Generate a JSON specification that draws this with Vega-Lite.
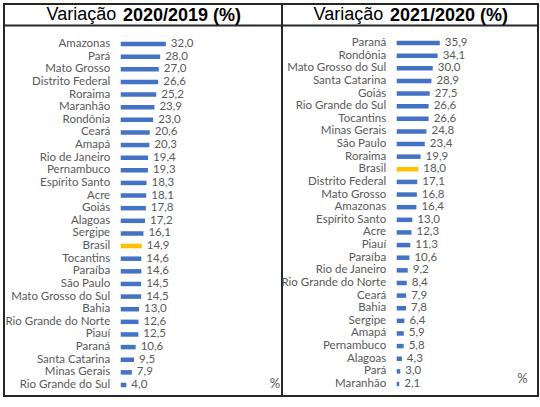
{
  "$schema": "https://vega.github.io/schema/vega-lite/v6.json",
  "background": "white",
  "padding": {"left": 3, "top": 3, "right": 1, "bottom": 1},
  "spacing": 0,
  "bounds": "flush",
  "datasets": {
    "a": [
      {"uf": "Amazonas", "v": 32.0},
      {"uf": "Pará", "v": 28.0},
      {"uf": "Mato Grosso", "v": 27.0},
      {"uf": "Distrito Federal", "v": 26.6},
      {"uf": "Roraima", "v": 25.2},
      {"uf": "Maranhão", "v": 23.9},
      {"uf": "Rondônia", "v": 23.0},
      {"uf": "Ceará", "v": 20.6},
      {"uf": "Amapá", "v": 20.3},
      {"uf": "Rio de Janeiro", "v": 19.4},
      {"uf": "Pernambuco", "v": 19.3},
      {"uf": "Espírito Santo", "v": 18.3},
      {"uf": "Acre", "v": 18.1},
      {"uf": "Goiás", "v": 17.8},
      {"uf": "Alagoas", "v": 17.2},
      {"uf": "Sergipe", "v": 16.1},
      {"uf": "Brasil", "v": 14.9},
      {"uf": "Tocantins", "v": 14.6},
      {"uf": "Paraíba", "v": 14.6},
      {"uf": "São Paulo", "v": 14.5},
      {"uf": "Mato Grosso do Sul", "v": 14.5},
      {"uf": "Bahia", "v": 13.0},
      {"uf": "Rio Grande do Norte", "v": 12.6},
      {"uf": "Piauí", "v": 12.5},
      {"uf": "Paraná", "v": 10.6},
      {"uf": "Santa Catarina", "v": 9.5},
      {"uf": "Minas Gerais", "v": 7.9},
      {"uf": "Rio Grande do Sul", "v": 4.0}
    ],
    "b": [
      {"uf": "Paraná", "v": 35.9},
      {"uf": "Rondônia", "v": 34.1},
      {"uf": "Mato Grosso do Sul", "v": 30.0},
      {"uf": "Santa Catarina", "v": 28.9},
      {"uf": "Goiás", "v": 27.5},
      {"uf": "Rio Grande do Sul", "v": 26.6},
      {"uf": "Tocantins", "v": 26.6},
      {"uf": "Minas Gerais", "v": 24.8},
      {"uf": "São Paulo", "v": 23.4},
      {"uf": "Roraima", "v": 19.9},
      {"uf": "Brasil", "v": 18.0},
      {"uf": "Distrito Federal", "v": 17.1},
      {"uf": "Mato Grosso", "v": 16.8},
      {"uf": "Amazonas", "v": 16.4},
      {"uf": "Espírito Santo", "v": 13.0},
      {"uf": "Acre", "v": 12.3},
      {"uf": "Piauí", "v": 11.3},
      {"uf": "Paraíba", "v": 10.6},
      {"uf": "Rio de Janeiro", "v": 9.2},
      {"uf": "Rio Grande do Norte", "v": 8.4},
      {"uf": "Ceará", "v": 7.9},
      {"uf": "Bahia", "v": 7.8},
      {"uf": "Sergipe", "v": 6.4},
      {"uf": "Amapá", "v": 5.9},
      {"uf": "Pernambuco", "v": 5.8},
      {"uf": "Alagoas", "v": 4.3},
      {"uf": "Pará", "v": 3.0},
      {"uf": "Maranhão", "v": 2.1}
    ]
  },
  "hconcat": [
    {
      "width": 278,
      "height": 392,
      "data": {"name": "a"},
      "title": {"text": "Variação", "anchor": "start", "frame": "group", "dx": 42.5, "offset": -20},
      "resolve": {"axis": {"x": "independent"}},
      "layer": [
        {
          "mark": {"type": "bar", "size": 4.5},
          "encoding": {
            "y": {
              "field": "uf", "type": "nominal", "sort": null,
              "scale": {"paddingInner": 0, "paddingOuter": 0, "rangeMin": 33.7, "rangeMax": 387.3},
              "axis": {"orient": "left", "offset": -116.7, "domain": false, "ticks": false, "labelPadding": 11, "title": null, "labelLimit": 300}
            },
            "x": {
              "field": "v", "type": "quantitative",
              "scale": {"domain": [-82.8, 114.4], "nice": false},
              "axis": {"orient": "top", "offset": -21, "domain": true, "domainColor": "#262626", "domainWidth": 2, "labels": false, "ticks": false, "grid": false,
                       "title": "2020/2019 (%)", "titleX": 118.5, "titleY": -4.5, "titleAlign": "left", "titleBaseline": "alphabetic",
                       "titleFont": "Liberation Sans", "titleFontSize": 18, "titleFontWeight": "bold", "titleColor": "black"}
            },
            "x2": {"datum": 0},
            "color": {"condition": {"test": "datum.uf === 'Brasil'", "value": "#FFC000"}, "value": "#4472C4"}
          }
        },
        {
          "mark": {"type": "text", "align": "left", "baseline": "middle", "dx": 5, "font": "Lato", "fontSize": 11.5, "color": "#595959"},
          "encoding": {
            "y": {"field": "uf", "type": "nominal", "sort": null},
            "x": {
              "field": "v", "type": "quantitative",
              "axis": {"orient": "bottom", "domain": false, "labels": false, "ticks": false, "grid": false, "title": "%", "titleX": 270.5, "titleY": -13, "titleAlign": "center", "titleBaseline": "middle"}
            },
            "text": {"field": "v", "type": "quantitative", "format": ".1f"}
          }
        }
      ]
    },
    {
      "width": 256,
      "height": 392,
      "data": {"name": "b"},
      "title": {"text": "Variação", "anchor": "start", "frame": "group", "dx": 31.5, "offset": -20},
      "resolve": {"axis": {"x": "independent"}},
      "layer": [
        {
          "mark": {"type": "bar", "size": 4.5},
          "encoding": {
            "y": {
              "field": "uf", "type": "nominal", "sort": null,
              "scale": {"paddingInner": 0, "paddingOuter": 0, "rangeMin": 32.7, "rangeMax": 386.3},
              "axis": {"orient": "left", "offset": -114.7, "domain": false, "ticks": false, "labelPadding": 11, "title": null, "labelLimit": 300}
            },
            "x": {
              "field": "v", "type": "quantitative",
              "scale": {"domain": [-95.6, 117.75], "nice": false},
              "axis": {"orient": "top", "offset": -21, "domain": true, "domainColor": "#262626", "domainWidth": 2, "labels": false, "ticks": false, "grid": false,
                       "title": "2021/2020 (%)", "titleX": 107.5, "titleY": -4.5, "titleAlign": "left", "titleBaseline": "alphabetic",
                       "titleFont": "Liberation Sans", "titleFontSize": 18, "titleFontWeight": "bold", "titleColor": "black"}
            },
            "x2": {"datum": 0},
            "color": {"condition": {"test": "datum.uf === 'Brasil'", "value": "#FFC000"}, "value": "#4472C4"}
          }
        },
        {
          "mark": {"type": "text", "align": "left", "baseline": "middle", "dx": 5, "font": "Lato", "fontSize": 11.5, "color": "#595959"},
          "encoding": {
            "y": {"field": "uf", "type": "nominal", "sort": null},
            "x": {
              "field": "v", "type": "quantitative",
              "axis": {"orient": "bottom", "domain": false, "labels": false, "ticks": false, "grid": false, "title": "%", "titleX": 240, "titleY": -17.5, "titleAlign": "center", "titleBaseline": "middle"}
            },
            "text": {"field": "v", "type": "quantitative", "format": ".1f"}
          }
        }
      ]
    }
  ],
  "config": {
    "locale": {"number": {"decimal": ",", "thousands": ".", "grouping": [3], "currency": ["R$", ""]}},
    "view": {"stroke": "#262626", "strokeWidth": 2},
    "title": {"font": "Liberation Sans", "fontSize": 18, "fontWeight": "normal", "color": "black"},
    "axis": {
      "labelFont": "Lato", "labelFontSize": 11.5, "labelColor": "#595959",
      "titleFont": "Lato", "titleFontSize": 13, "titleColor": "#595959", "titleFontWeight": "normal"
    }
  }
}
